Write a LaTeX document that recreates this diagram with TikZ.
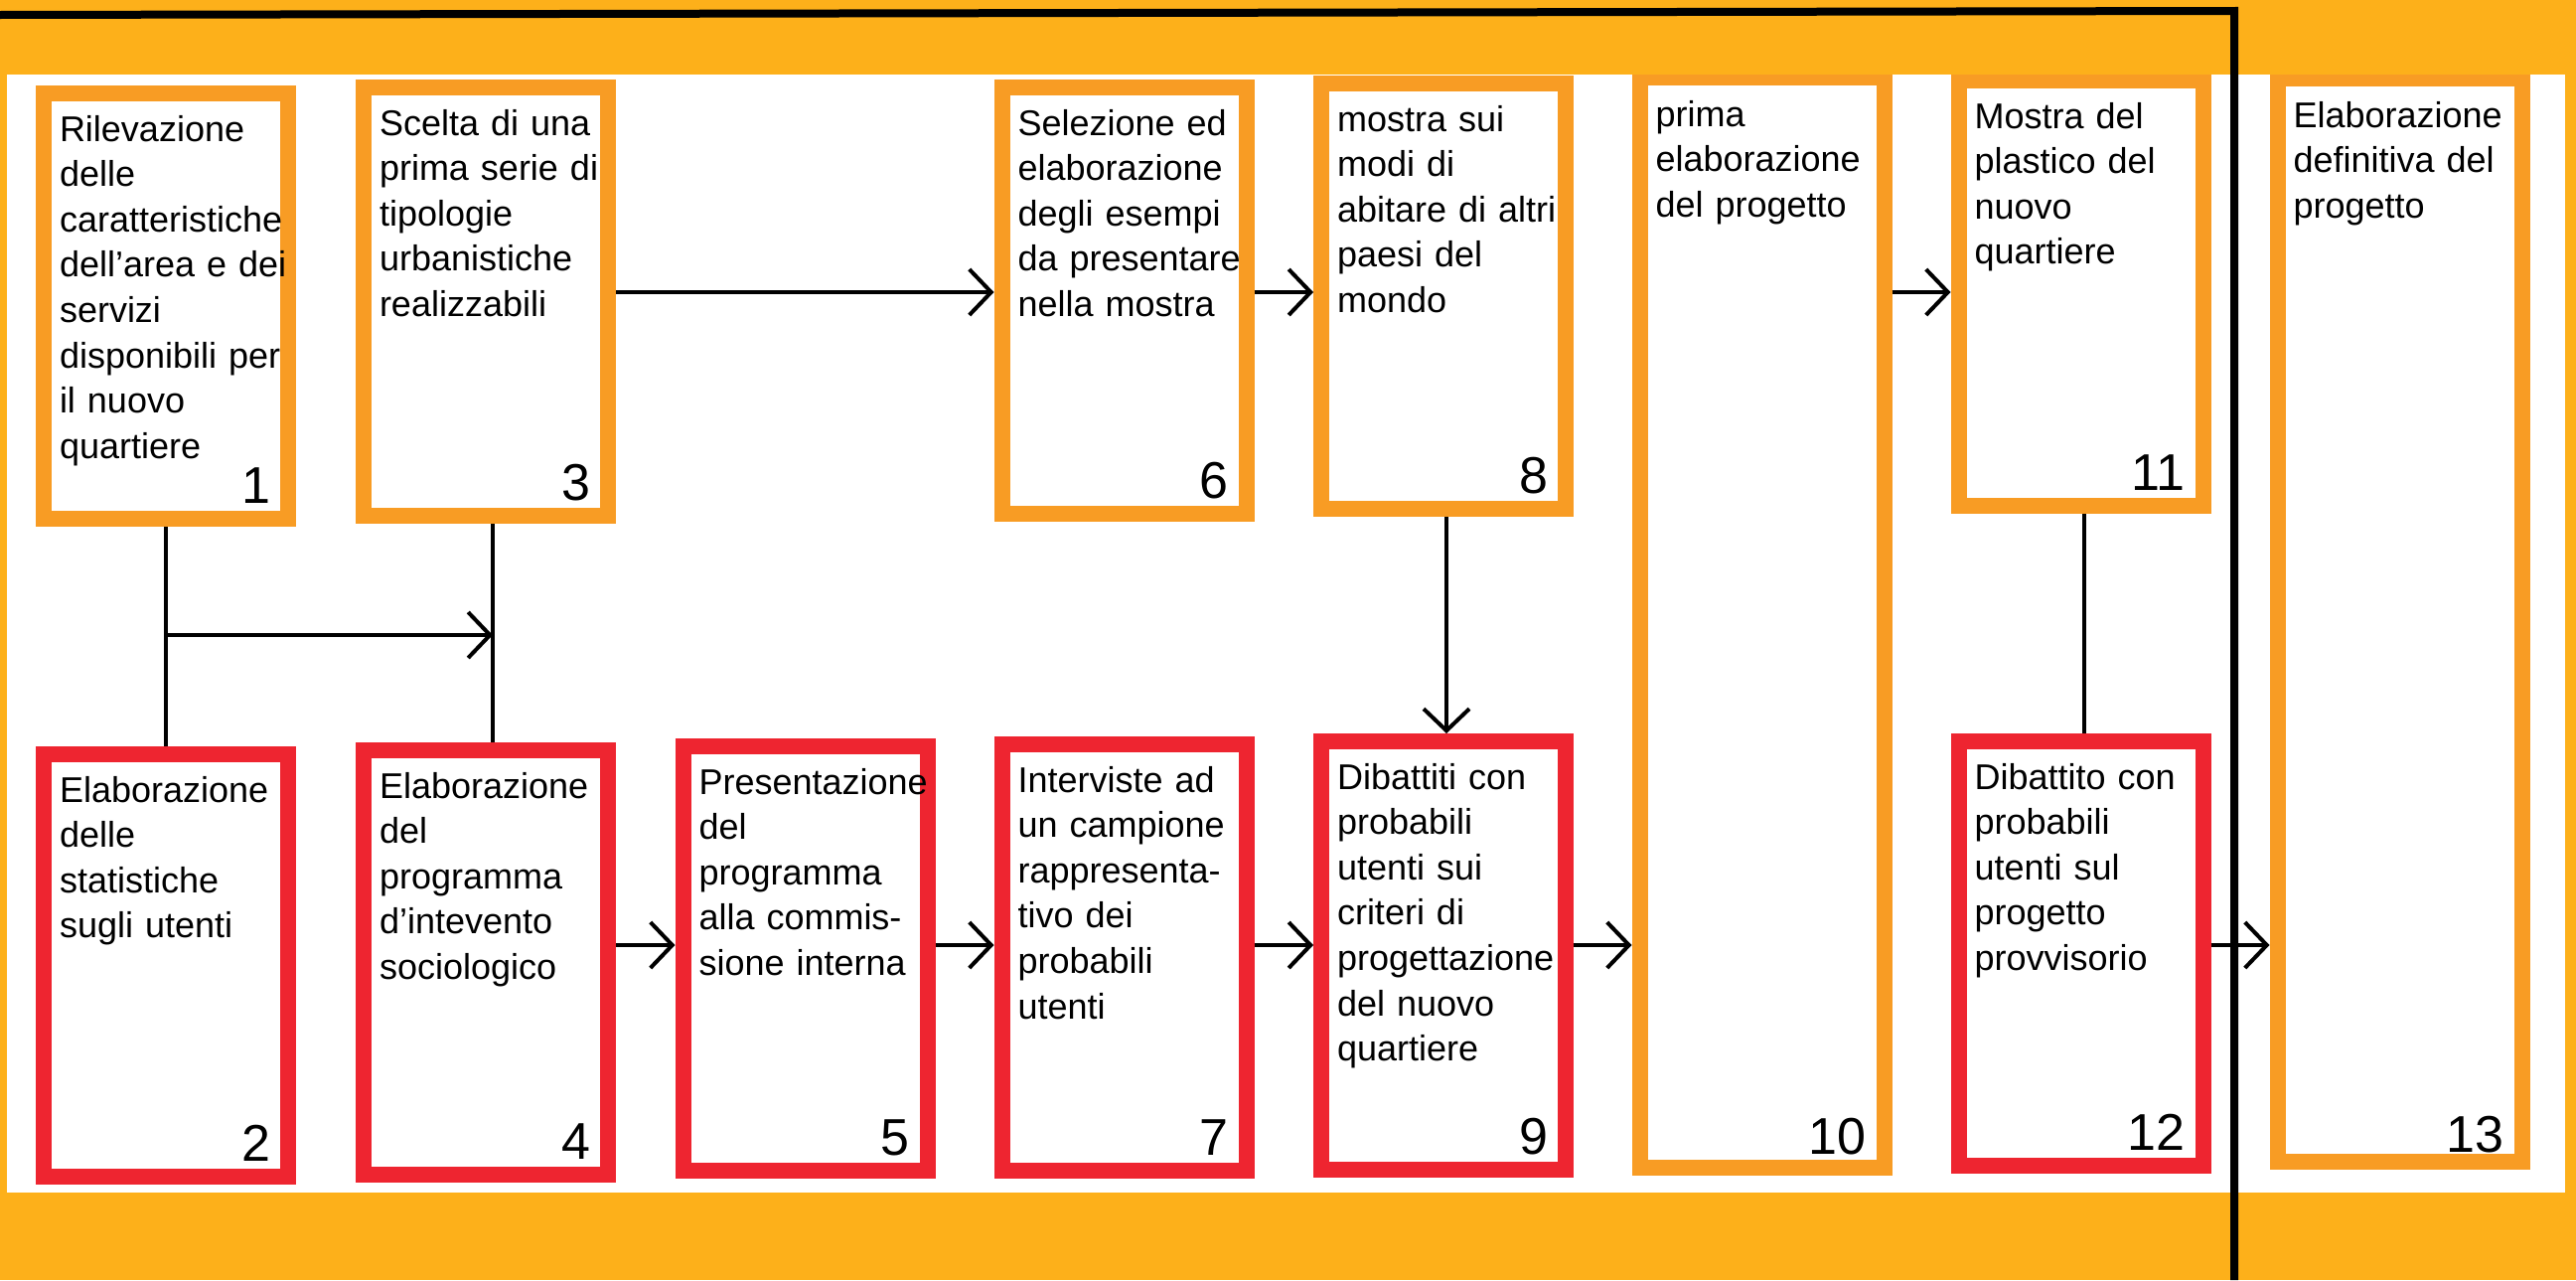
\documentclass[tikz,border=0pt]{standalone}
\usepackage{fontspec}
\setmainfont{Liberation Sans}
\usetikzlibrary{arrows.meta}
\definecolor{bandorange}{HTML}{FDB01A}
\definecolor{boxorange}{HTML}{F89C24}
\definecolor{boxred}{HTML}{EE2530}
\tikzset{
  stepbox/.style={draw, line width=16pt, fill=white, minimum width=246pt,
    inner sep=0pt, outer sep=8pt},
  orangebox/.style={stepbox, draw=boxorange},
  redbox/.style={stepbox, draw=boxred},
  boxtext/.style={anchor=base west, inner sep=0pt, outer sep=0pt, text width=300pt,
    align=left, font=\fontsize{36}{45.6}\selectfont},
  boxnum/.style={anchor=base east, inner sep=0pt, outer sep=0pt,
    font=\fontsize{52}{60}\selectfont},
  link/.style={line width=4pt, draw=black},
  flow/.style={link, -{Straight Barb[length=22pt,width=46pt]}},
}
\begin{document}
\begin{tikzpicture}[x=1pt,y=-1pt]
% orange frame and white sheet
\fill[bandorange] (0,0) rectangle (2593,1288);
\useasboundingbox (0,0) rectangle (2593,1288);
\fill[white] (7,75) rectangle (2582,1200);

% upper row of steps
\node[orangebox, minimum height=428pt] (b1)  at (167,308)    {};
\node[orangebox, minimum height=431pt] (b3)  at (489,303.5)  {};
\node[orangebox, minimum height=429pt] (b6)  at (1131.5,302.5) {};
\node[orangebox, minimum height=428pt] (b8)  at (1453,298)   {};
\node[orangebox, minimum height=1097pt] (b10) at (1773.5,626.5) {};
\node[orangebox, minimum height=428pt] (b11) at (2094.5,295) {};
\node[orangebox, minimum height=1090pt] (b13) at (2415.5,624) {};

% lower row of steps
\node[redbox, minimum height=425pt] (b2)  at (167,971.5)    {};
\node[redbox, minimum height=427pt] (b4)  at (489,968.5)    {};
\node[redbox, minimum height=427pt] (b5)  at (810.5,964.5)  {};
\node[redbox, minimum height=429pt] (b7)  at (1131.5,963.5) {};
\node[redbox, minimum height=431pt] (b9)  at (1453,961.5)   {};
\node[redbox, minimum height=427pt] (b12) at (2094.5,959.5) {};

% descriptions
\node[boxtext] (t1) at ([shift={(24pt,-56pt)}]b1.north west)
  {Rilevazione\\delle\\caratteristiche\\dell’area e dei\\servizi\\disponibili per\\il nuovo\\quartiere};
\node[boxtext] (t3) at ([shift={(24pt,-56pt)}]b3.north west)
  {Scelta di una\\prima serie di\\tipologie\\urbanistiche\\realizzabili};
\node[boxtext] (t6) at ([shift={(24pt,-56pt)}]b6.north west)
  {Selezione ed\\elaborazione\\degli esempi\\da presentare\\nella mostra};
\node[boxtext] (t8) at ([shift={(24pt,-56pt)}]b8.north west)
  {mostra sui\\modi di\\abitare di altri\\paesi del\\mondo};
\node[boxtext] (t10) at ([shift={(24pt,-57pt)}]b10.north west)
  {prima\\elaborazione\\del progetto};
\node[boxtext] (t11) at ([shift={(24pt,-56pt)}]b11.north west)
  {Mostra del\\plastico del\\nuovo\\quartiere};
\node[boxtext] (t13) at ([shift={(24pt,-57pt)}]b13.north west)
  {Elaborazione\\definitiva del\\progetto};
\node[boxtext] (t2) at ([shift={(24pt,-56pt)}]b2.north west)
  {Elaborazione\\delle\\statistiche\\sugli utenti};
\node[boxtext] (t4) at ([shift={(24pt,-56pt)}]b4.north west)
  {Elaborazione\\del\\programma\\d’intevento\\sociologico};
\node[boxtext] (t5) at ([shift={(24pt,-56pt)}]b5.north west)
  {Presentazione\\del\\programma\\alla commis-\\sione interna};
\node[boxtext] (t7) at ([shift={(24pt,-56pt)}]b7.north west)
  {Interviste ad\\un campione\\rappresenta-\\tivo dei\\probabili\\utenti};
\node[boxtext] (t9) at ([shift={(24pt,-56pt)}]b9.north west)
  {Dibattiti con\\probabili\\utenti sui\\criteri di\\progettazione\\del nuovo\\quartiere};
\node[boxtext] (t12) at ([shift={(24pt,-56pt)}]b12.north west)
  {Dibattito con\\probabili\\utenti sul\\progetto\\provvisorio};

% step numbers
\node[boxnum] (n1)  at ([shift={(-26pt,24pt)}]b1.south east)  {1};
\node[boxnum] (n2)  at ([shift={(-26pt,24pt)}]b2.south east)  {2};
\node[boxnum] (n3)  at ([shift={(-26pt,24pt)}]b3.south east)  {3};
\node[boxnum] (n4)  at ([shift={(-26pt,24pt)}]b4.south east)  {4};
\node[boxnum] (n5)  at ([shift={(-26pt,24pt)}]b5.south east)  {5};
\node[boxnum] (n6)  at ([shift={(-26pt,24pt)}]b6.south east)  {6};
\node[boxnum] (n7)  at ([shift={(-26pt,24pt)}]b7.south east)  {7};
\node[boxnum] (n8)  at ([shift={(-26pt,24pt)}]b8.south east)  {8};
\node[boxnum] (n9)  at ([shift={(-26pt,24pt)}]b9.south east)  {9};
\node[boxnum] (n10) at ([shift={(-26pt,22pt)}]b10.south east) {10};
\node[boxnum] (n11) at ([shift={(-26pt,24pt)}]b11.south east) {11};
\node[boxnum] (n12) at ([shift={(-26pt,24pt)}]b12.south east) {12};
\node[boxnum] (n13) at ([shift={(-26pt,18pt)}]b13.south east) {13};

% rows used by the horizontal connectors
\coordinate (upper) at (0,294);
\coordinate (cross) at (0,639);
\coordinate (lower) at (0,951);
\coordinate (j3) at ([xshift=7pt]b3.south);
\coordinate (j8) at ([xshift=3pt]b8.south);
\coordinate (j11) at ([xshift=3.5pt]b11.south);

% connectors
\draw[link] (b1.south) -- (b2.north);
\draw[link] (j3) -- (j3 |- b4.north);
\draw[flow] (b1.south |- cross) -- (j3 |- cross);
\draw[flow] (b3.east |- upper) -- (b6.west |- upper);
\draw[flow] (b6.east |- upper) -- (b8.west |- upper);
\draw[flow] (b10.east |- upper) -- (b11.west |- upper);
\draw[flow] (j8) -- (j8 |- b9.north);
\draw[link] (j11) -- (j11 |- b12.north);
\draw[flow] (b4.east |- lower) -- (b5.west |- lower);
\draw[flow] (b5.east |- lower) -- (b7.west |- lower);
\draw[flow] (b7.east |- lower) -- (b9.west |- lower);
\draw[flow] (b9.east |- lower) -- (b10.west |- lower);
\draw[flow] (b12.east |- lower) -- (b13.west |- lower);

% top band over the tall boxes, then the black frame line
\fill[bandorange] (0,0) rectangle (2593,75);
\draw[line width=8pt, line join=miter] (0,15) -- (2249,11) -- (2249,1288);
\end{tikzpicture}
\end{document}
